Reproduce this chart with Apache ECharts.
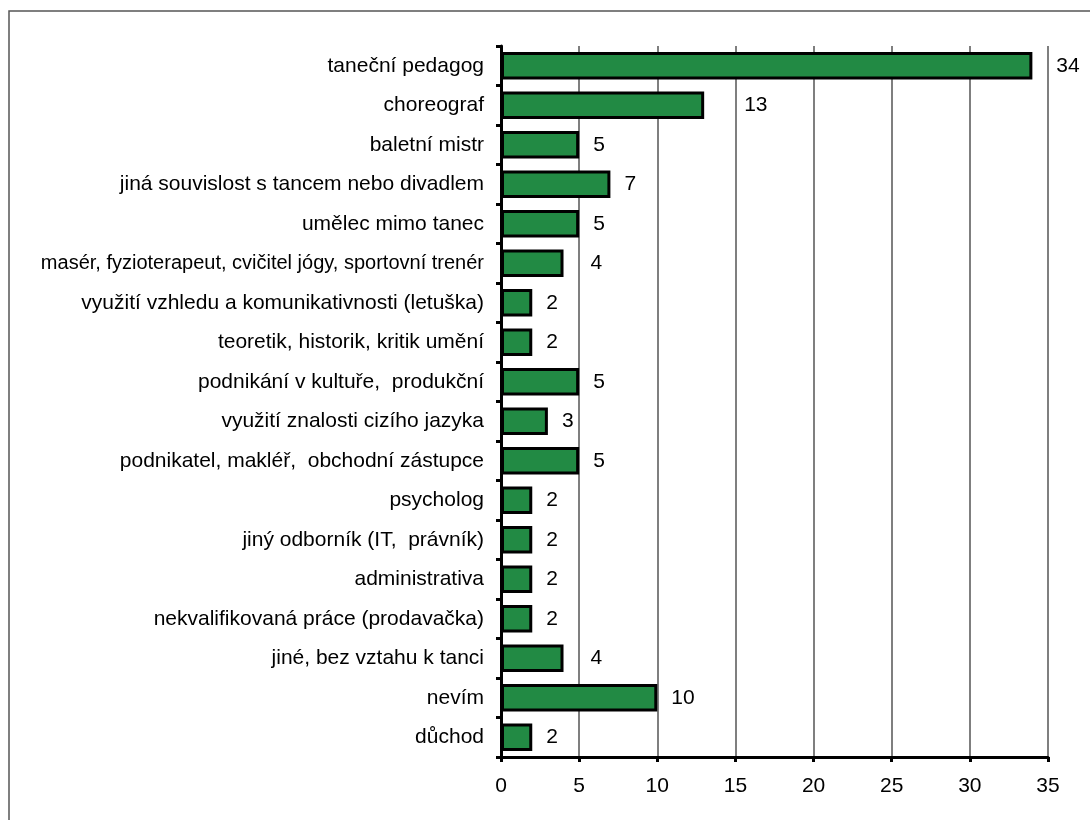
<!DOCTYPE html>
<html>
<head>
<meta charset="utf-8">
<script src="https://cdn.jsdelivr.net/npm/echarts@6/dist/echarts.min.js"></script>
<style>
  html, body { margin: 0; padding: 0; background: #fff; }
  #chart { width: 1090px; height: 820px; }
</style>
</head>
<body>
<div id="chart"></div>
<script>
// Profesní uplatnění – počty odpovědí
const categories = [
  'taneční pedagog',
  'choreograf',
  'baletní mistr',
  'jiná souvislost s tancem nebo divadlem',
  'umělec mimo tanec',
  'masér, fyzioterapeut, cvičitel jógy, sportovní trenér',
  'využití vzhledu a komunikativnosti (letuška)',
  'teoretik, historik, kritik umění',
  'podnikání v kultuře,  produkční',
  'využití znalosti cizího jazyka',
  'podnikatel, makléř,  obchodní zástupce',
  'psycholog',
  'jiný odborník (IT,  právník)',
  'administrativa',
  'nekvalifikovaná práce (prodavačka)',
  'jiné, bez vztahu k tanci',
  'nevím',
  'důchod'
];
const counts = [34, 13, 5, 7, 5, 4, 2, 2, 5, 3, 5, 2, 2, 2, 2, 4, 10, 2];
const xTicks = [0, 5, 10, 15, 20, 25, 30, 35];

// labels that sit further from the bar end
const labelGap = {
  'taneční pedagog': 24,
  'choreograf': 40,
  'masér, fyzioterapeut, cvičitel jógy, sportovní trenér': 27,
  'jiné, bez vztahu k tanci': 27
};
const smallLabel = 'masér, fyzioterapeut, cvičitel jógy, sportovní trenér';

const barData = counts.map((v, i) => {
  const gap = labelGap[categories[i]];
  return gap ? { value: v, label: { distance: gap } } : v;
});

const chart = echarts.init(document.getElementById('chart'), null, { renderer: 'canvas' });
const font = '"Liberation Sans", Arial, sans-serif';

chart.setOption({
  animation: false,
  backgroundColor: '#ffffff',
  graphic: [{
    type: 'rect',
    shape: { x: 9, y: 11, width: 1100, height: 830 },
    style: { fill: 'none', stroke: '#555555', lineWidth: 1.5 },
    silent: true
  }],
  grid: { left: 501, right: 42, top: 46, bottom: 63 },
  xAxis: {
    type: 'value',
    min: 0, max: 35, interval: 5,
    axisLine: { show: true, lineStyle: { color: '#000', width: 3 } },
    axisTick: { show: true, length: 5, lineStyle: { color: '#000', width: 3 } },
    axisLabel: {
      color: '#000', fontSize: 21, fontFamily: font, margin: 19,
      formatter: v => (xTicks.indexOf(v) >= 0 ? String(v) : '')
    },
    splitLine: { show: true, lineStyle: { color: '#7f7f7f', width: 2 } }
  },
  yAxis: {
    type: 'category',
    inverse: true,
    data: categories,
    axisLine: { show: true, lineStyle: { color: '#000', width: 3 } },
    axisTick: { show: true, length: 5, lineStyle: { color: '#000', width: 3 } },
    axisLabel: {
      color: '#000', fontSize: 21, fontFamily: font, margin: 17,
      formatter: v => (v === smallLabel ? '{s|' + v + '}' : v),
      rich: { s: { fontSize: 20, fontFamily: font, color: '#000' } }
    },
    splitLine: { show: false }
  },
  series: [{
    type: 'bar',
    data: barData,
    barCategoryGap: '30%',
    itemStyle: { color: '#228a44', borderColor: '#000', borderWidth: 3 },
    label: {
      show: true, position: 'right', distance: 14,
      color: '#000', fontSize: 21, fontFamily: font
    }
  }]
});
</script>
</body>
</html>
